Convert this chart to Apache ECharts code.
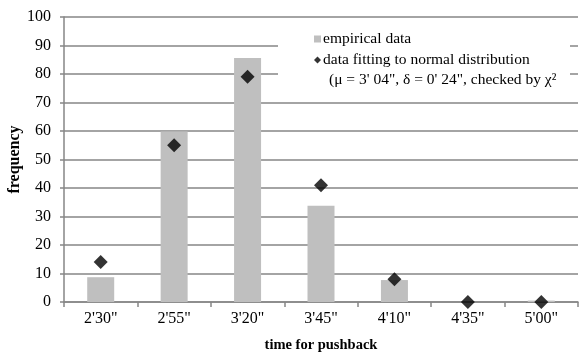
<!DOCTYPE html>
<html><head><meta charset="utf-8">
<script src="https://cdn.jsdelivr.net/npm/echarts@6/dist/echarts.min.js"></script>
<style>html,body{margin:0;padding:0;background:#fff}#c{width:579px;height:354px}</style>
</head><body><div id="c"></div>
<script>
const categories = ["2'30\"", "2'55\"", "3'20\"", "3'45\"", "4'10\"", "4'35\"", "5'00\""];
const empirical = [8.7, 59.8, 85.6, 33.8, 7.7, 0, 0.5];
const fitted = [14, 55, 79, 41, 8, 0, 0];
const yTicks = [0, 10, 20, 30, 40, 50, 60, 70, 80, 90, 100];
const seriesNames = ['empirical data', 'data fitting to normal distribution'];
const legendNote = '(\u03bc = 3\' 04", \u03b4 = 0\' 24", checked by \u03c7\u00b2';

const font = 'Liberation Serif';
const chart = echarts.init(document.getElementById('c'));
chart.setOption({
  animation: false,
  backgroundColor: '#fff',
  textStyle: { fontFamily: font },
  grid: { left: 64, right: 1, top: 17, bottom: 52, containLabel: false, outerBoundsMode: 'none' },
  xAxis: {
    type: 'category', data: categories,
    name: 'time for pushback', nameLocation: 'middle', nameGap: 36, nameMoveOverlap: false,
    nameTextStyle: { fontFamily: font, fontWeight: 'bold', fontSize: 14.5, color: '#000' },
    axisLine: { lineStyle: { color: '#868686', width: 1.5 } },
    axisTick: { show: true, length: 5, lineStyle: { color: '#868686', width: 1.5 } },
    axisLabel: { fontFamily: font, fontSize: 16, color: '#000', margin: 9 }
  },
  yAxis: {
    type: 'value', min: yTicks[0], max: yTicks[yTicks.length - 1], interval: 10,
    name: 'frequency', nameLocation: 'middle', nameGap: 41, nameMoveOverlap: false,
    nameTextStyle: { fontFamily: font, fontWeight: 'bold', fontSize: 16, color: '#000' },
    axisLine: { show: true, lineStyle: { color: '#868686', width: 1.5 } },
    axisTick: { show: true, length: 4, lineStyle: { color: '#868686', width: 1.5 } },
    splitLine: { lineStyle: { color: '#868686', width: 1.5 } },
    axisLabel: { fontFamily: font, fontSize: 16, color: '#000', margin: 13 }
  },
  legend: {
    orient: 'vertical', left: 309, top: 26, itemGap: 5,
    itemWidth: 7, itemHeight: 7,
    textStyle: { fontFamily: font, fontSize: 15.5, color: '#000', padding: [0, 0, 0, -3] },
    data: [
      { name: seriesNames[0], icon: 'rect', itemStyle: { color: '#bfbfbf' } },
      { name: seriesNames[1], icon: 'diamond', itemStyle: { color: '#000' } }
    ]
  },
  graphic: [
    { type: 'rect', z: 1, shape: { x: 278, y: 20, width: 292, height: 80 }, style: { fill: '#fff' } },
    { type: 'text', z: 5, left: 329, top: 72, style: { text: legendNote, font: '15.5px "Liberation Serif"', fill: '#000' } }
  ],
  series: [
    { name: seriesNames[0], type: 'bar', data: empirical, barWidth: 27,
      itemStyle: { color: '#bfbfbf' }, z: 2 },
    { name: seriesNames[1], type: 'scatter', data: fitted, symbol: 'diamond', symbolSize: 14,
      itemStyle: { color: '#000' }, z: 3 }
  ]
});
</script></body></html>
